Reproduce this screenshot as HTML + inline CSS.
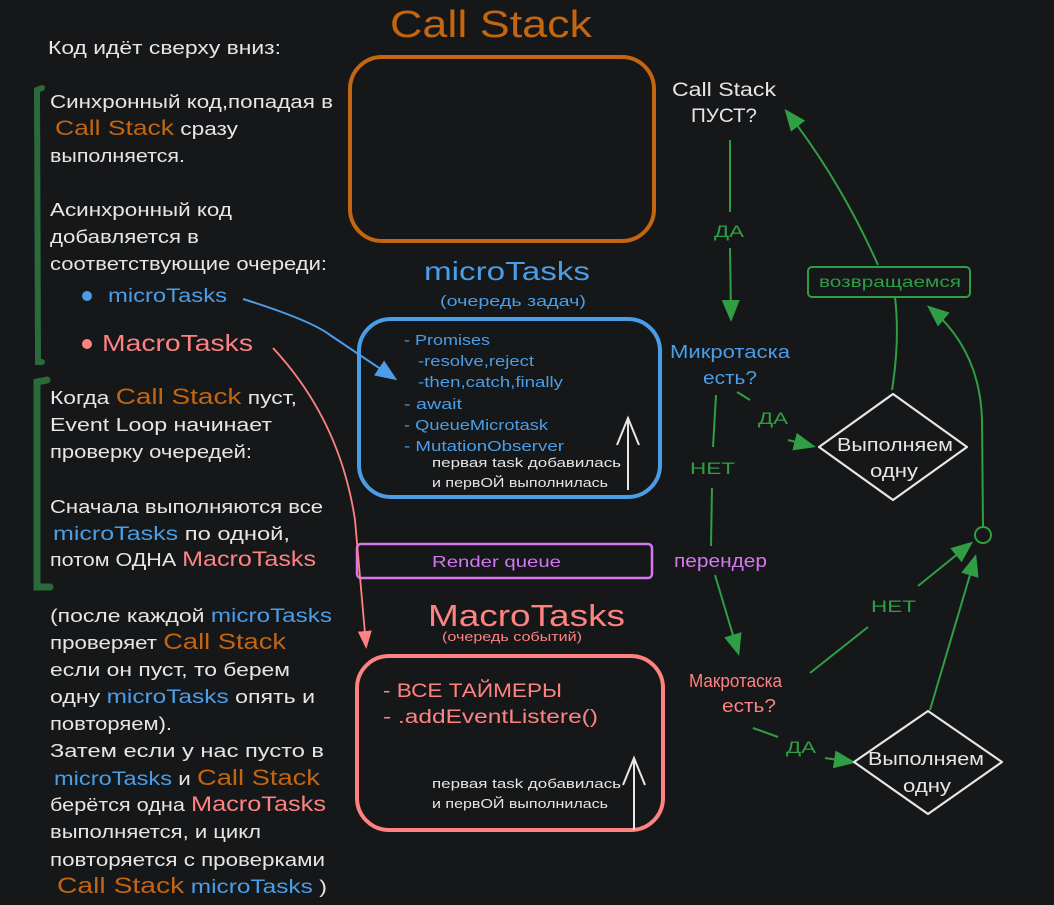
<!DOCTYPE html>
<html><head><meta charset="utf-8"><style>
html,body{margin:0;padding:0;background:#161719;}
svg{display:block}
text{font-family:"Liberation Sans","Noto Sans CJK SC",sans-serif;}
.w{fill:#e6e6e6;font-size:18px}
.o{fill:#c4650f}
.b{fill:#4a9ee8}
.r{fill:#ff8282}
.g{fill:#2f9e44}
.p{fill:#d577ef}
</style></head><body>
<svg width="1054" height="905" viewBox="0 0 1054 905" xmlns="http://www.w3.org/2000/svg">
<defs>
<marker id="agb" markerWidth="22" markerHeight="22" refX="18" refY="11" orient="auto" markerUnits="userSpaceOnUse" viewBox="0 0 22 22"><path d="M0,2 L22,11 L0,20 z" fill="#2f9e44"/></marker>
<marker id="ab" markerWidth="22" markerHeight="22" refX="18" refY="11" orient="auto" markerUnits="userSpaceOnUse" viewBox="0 0 22 22"><path d="M0,2 L22,11 L0,20 z" fill="#4a9ee8"/></marker>
<marker id="ar" markerWidth="18" markerHeight="18" refX="14" refY="9" orient="auto" markerUnits="userSpaceOnUse" viewBox="0 0 18 18"><path d="M0,2 L18,9 L0,16 z" fill="#ff8282"/></marker>
</defs>
<rect width="1054" height="905" fill="#161719"/>

<!-- Title -->
<text x="390" y="37" font-size="38" class="o" textLength="202" lengthAdjust="spacingAndGlyphs">Call Stack</text>
<rect x="350" y="57" width="304" height="184" rx="32" fill="none" stroke="#c4650f" stroke-width="4"/>

<!-- left text -->
<text class="w" x="48" y="54" textLength="233" lengthAdjust="spacingAndGlyphs">Код идёт сверху вниз:</text>
<path d="M42,362 L38,362 L37,90 L42,88" fill="none" stroke="#2b6a3a" stroke-width="6" stroke-linecap="round"/>
<text class="w" x="50" y="108" textLength="283" lengthAdjust="spacingAndGlyphs">Синхронный код,попадая в</text>
<text class="w" x="55" y="135" textLength="183" lengthAdjust="spacingAndGlyphs"><tspan class="o" font-size="21">Call Stack</tspan> сразу</text>
<text class="w" x="50" y="162" textLength="135" lengthAdjust="spacingAndGlyphs">выполняется.</text>
<text class="w" x="50" y="216" textLength="182" lengthAdjust="spacingAndGlyphs">Асинхронный код</text>
<text class="w" x="50" y="243" textLength="149" lengthAdjust="spacingAndGlyphs">добавляется в</text>
<text class="w" x="50" y="270" textLength="277" lengthAdjust="spacingAndGlyphs">соответствующие очереди:</text>
<circle cx="87" cy="296" r="5" fill="#4a9ee8"/>
<text x="108" y="302" font-size="19" class="b" textLength="119" lengthAdjust="spacingAndGlyphs">microTasks</text>
<circle cx="87" cy="344" r="5" fill="#ff8282"/>
<text x="102" y="351" font-size="23" class="r" textLength="151" lengthAdjust="spacingAndGlyphs">MacroTasks</text>

<path d="M50,587 L37,587 L37,382 L47,380" fill="none" stroke="#2b6a3a" stroke-width="7" stroke-linecap="round"/>
<text class="w" x="50" y="404" textLength="247" lengthAdjust="spacingAndGlyphs">Когда <tspan class="o" font-size="22">Call Stack</tspan> пуст,</text>
<text class="w" x="50" y="431" textLength="222" lengthAdjust="spacingAndGlyphs">Event Loop начинает</text>
<text class="w" x="50" y="458" textLength="202" lengthAdjust="spacingAndGlyphs">проверку очередей:</text>
<text class="w" x="50" y="513" textLength="273" lengthAdjust="spacingAndGlyphs">Сначала выполняются все</text>
<text class="w" x="53" y="540" textLength="237" lengthAdjust="spacingAndGlyphs"><tspan class="b" font-size="19">microTasks</tspan>  по одной,</text>
<text class="w" x="50" y="566" textLength="266" lengthAdjust="spacingAndGlyphs">потом ОДНА <tspan class="r" font-size="21">MacroTasks</tspan></text>

<text class="w" x="50" y="622" textLength="282" lengthAdjust="spacingAndGlyphs">(после каждой <tspan class="b" font-size="19">microTasks</tspan></text>
<text class="w" x="50" y="649" textLength="236" lengthAdjust="spacingAndGlyphs">проверяет <tspan class="o" font-size="22">Call Stack</tspan></text>
<text class="w" x="50" y="676" textLength="240" lengthAdjust="spacingAndGlyphs">если он пуст, то берем</text>
<text class="w" x="50" y="703" textLength="265" lengthAdjust="spacingAndGlyphs">одну <tspan class="b" font-size="19">microTasks</tspan> опять и</text>
<text class="w" x="50" y="730" textLength="122" lengthAdjust="spacingAndGlyphs">повторяем).</text>
<text class="w" x="50" y="757" textLength="274" lengthAdjust="spacingAndGlyphs">Затем  если у нас пусто в</text>
<text class="w" x="54" y="785" textLength="266" lengthAdjust="spacingAndGlyphs"><tspan class="b" font-size="19">microTasks</tspan> и <tspan class="o" font-size="22">Call Stack</tspan></text>
<text class="w" x="50" y="811" textLength="276" lengthAdjust="spacingAndGlyphs">берётся одна <tspan class="r" font-size="21">MacroTasks</tspan></text>
<text class="w" x="50" y="838" textLength="211" lengthAdjust="spacingAndGlyphs">выполняется, и цикл</text>
<text class="w" x="50" y="866" textLength="275" lengthAdjust="spacingAndGlyphs">повторяется с проверками</text>
<text class="w" x="57" y="893" textLength="270" lengthAdjust="spacingAndGlyphs"><tspan class="o" font-size="22">Call Stack</tspan> <tspan class="b" font-size="19">microTasks</tspan> )</text>

<!-- micro -->
<text x="424" y="280" font-size="26" class="b" textLength="166" lengthAdjust="spacingAndGlyphs">microTasks</text>
<text x="440" y="306" font-size="15" class="b" textLength="146" lengthAdjust="spacingAndGlyphs">(очередь задач)</text>
<rect x="359" y="319" width="301" height="178" rx="32" fill="none" stroke="#4a9ee8" stroke-width="4"/>
<g font-size="15" class="b">
<text x="404" y="345" textLength="86" lengthAdjust="spacingAndGlyphs">- Promises</text>
<text x="418" y="366" textLength="116" lengthAdjust="spacingAndGlyphs">-resolve,reject</text>
<text x="418" y="387" textLength="145" lengthAdjust="spacingAndGlyphs">-then,catch,finally</text>
<text x="404" y="409" textLength="58" lengthAdjust="spacingAndGlyphs">- await</text>
<text x="404" y="430" textLength="144" lengthAdjust="spacingAndGlyphs">- QueueMicrotask</text>
<text x="404" y="451" textLength="160" lengthAdjust="spacingAndGlyphs">- MutationObserver</text>
</g>
<text x="432" y="467" font-size="13" fill="#e6e6e6" textLength="189" lengthAdjust="spacingAndGlyphs">первая task добавилась</text>
<text x="432" y="487" font-size="13" fill="#e6e6e6" textLength="176" lengthAdjust="spacingAndGlyphs">и первОЙ выполнилась</text>
<path d="M628,490 L628,420 M617,445 L628,418 L639,445" fill="none" stroke="#e6e6e6" stroke-width="2"/>

<!-- render -->
<rect x="357" y="544" width="295" height="34" rx="4" fill="none" stroke="#d577ef" stroke-width="2.5"/>
<text x="432" y="567" font-size="16" class="p" textLength="129" lengthAdjust="spacingAndGlyphs">Render queue</text>

<!-- macro -->
<text x="428" y="626" font-size="31" class="r" textLength="197" lengthAdjust="spacingAndGlyphs">MacroTasks</text>
<text x="442" y="641" font-size="13" class="r" textLength="140" lengthAdjust="spacingAndGlyphs">(очередь событий)</text>
<rect x="357" y="656" width="306" height="174" rx="32" fill="none" stroke="#ff8282" stroke-width="4"/>
<text x="383" y="697" font-size="19" class="r" textLength="179" lengthAdjust="spacingAndGlyphs">- ВСЕ ТАЙМЕРЫ</text>
<text x="383" y="723" font-size="19" class="r" textLength="215" lengthAdjust="spacingAndGlyphs">- .addEventListere()</text>
<text x="432" y="788" font-size="13" fill="#e6e6e6" textLength="189" lengthAdjust="spacingAndGlyphs">первая task добавилась</text>
<text x="432" y="808" font-size="13" fill="#e6e6e6" textLength="176" lengthAdjust="spacingAndGlyphs">и первОЙ выполнилась</text>
<path d="M634,830 L634,760 M623,785 L634,758 L645,785" fill="none" stroke="#e6e6e6" stroke-width="2"/>

<!-- connectors from left -->
<path d="M243,299 Q310,320 330,335 L394,378" fill="none" stroke="#4a9ee8" stroke-width="2" marker-end="url(#ab)"/>
<path d="M273,348 Q340,420 355,520 L366,645" fill="none" stroke="#ff8282" stroke-width="1.8" marker-end="url(#ar)"/>

<!-- right flow -->
<text x="672" y="96" font-size="19" fill="#e6e6e6" textLength="104" lengthAdjust="spacingAndGlyphs">Call Stack</text>
<text x="691" y="122" font-size="19" fill="#e6e6e6" textLength="66" lengthAdjust="spacingAndGlyphs">ПУСТ?</text>
<path d="M730,140 L730,212 M730,248 L731,318" fill="none" stroke="#2f9e44" stroke-width="2" marker-end="url(#agb)"/>
<text x="714" y="237" font-size="17" class="g" textLength="30" lengthAdjust="spacingAndGlyphs">ДА</text>

<text x="670" y="358" font-size="18" class="b" textLength="120" lengthAdjust="spacingAndGlyphs">Микротаска</text>
<text x="703" y="384" font-size="18" class="b" textLength="54" lengthAdjust="spacingAndGlyphs">есть?</text>

<path d="M737,392 L750,400" stroke="#2f9e44" stroke-width="2"/>
<text x="758" y="424" font-size="17" class="g" textLength="30" lengthAdjust="spacingAndGlyphs">ДА</text>
<path d="M788,440 L812,446" fill="none" stroke="#2f9e44" stroke-width="2" marker-end="url(#agb)"/>

<path d="M893,394 L967,447 L893,500 L819,447 Z" fill="none" stroke="#e6e6e6" stroke-width="2.2" stroke-linejoin="round"/>
<text x="837" y="451" font-size="18" fill="#e6e6e6" textLength="116" lengthAdjust="spacingAndGlyphs">Выполняем</text>
<text x="870" y="477" font-size="18" fill="#e6e6e6" textLength="48" lengthAdjust="spacingAndGlyphs">одну</text>

<path d="M716,395 L713,447 M712,488 L711,546" fill="none" stroke="#2f9e44" stroke-width="2"/>
<text x="690" y="474" font-size="17" class="g" textLength="45" lengthAdjust="spacingAndGlyphs">НЕТ</text>
<text x="674" y="567" font-size="18" class="p" textLength="93" lengthAdjust="spacingAndGlyphs">перендер</text>
<path d="M715,575 L738,652" fill="none" stroke="#2f9e44" stroke-width="2" marker-end="url(#agb)"/>

<text x="689" y="687" font-size="18" class="r" textLength="93" lengthAdjust="spacingAndGlyphs">Макротаска</text>
<text x="722" y="712" font-size="18" class="r" textLength="54" lengthAdjust="spacingAndGlyphs">есть?</text>

<path d="M753,728 L778,737" stroke="#2f9e44" stroke-width="2"/>
<text x="786" y="753" font-size="17" class="g" textLength="30" lengthAdjust="spacingAndGlyphs">ДА</text>
<path d="M825,758 L852,762" fill="none" stroke="#2f9e44" stroke-width="2" marker-end="url(#agb)"/>

<path d="M928,711 L1002,762 L928,814 L854,762 Z" fill="none" stroke="#e6e6e6" stroke-width="2.2" stroke-linejoin="round"/>
<text x="868" y="765" font-size="18" fill="#e6e6e6" textLength="116" lengthAdjust="spacingAndGlyphs">Выполняем</text>
<text x="903" y="792" font-size="18" fill="#e6e6e6" textLength="48" lengthAdjust="spacingAndGlyphs">одну</text>

<path d="M810,673 L868,627 M918,586 L970,544" fill="none" stroke="#2f9e44" stroke-width="2" marker-end="url(#agb)"/>
<text x="871" y="612" font-size="17" class="g" textLength="45" lengthAdjust="spacingAndGlyphs">НЕТ</text>
<path d="M930,710 L975,558" fill="none" stroke="#2f9e44" stroke-width="2" marker-end="url(#agb)"/>
<circle cx="983" cy="535" r="8" fill="none" stroke="#2f9e44" stroke-width="2"/>
<path d="M983,527 L982,420 Q980,350 930,308" fill="none" stroke="#2f9e44" stroke-width="2" marker-end="url(#agb)"/>
<path d="M892,390 Q900,340 895,297" fill="none" stroke="#2f9e44" stroke-width="2"/>

<rect x="808" y="267" width="162" height="30" rx="4" fill="none" stroke="#2f9e44" stroke-width="2"/>
<text x="819" y="287" font-size="16" class="g" textLength="142" lengthAdjust="spacingAndGlyphs">возвращаемся</text>
<path d="M878,265 Q840,180 787,112" fill="none" stroke="#2f9e44" stroke-width="2" marker-end="url(#agb)"/>
</svg>
</body></html>
